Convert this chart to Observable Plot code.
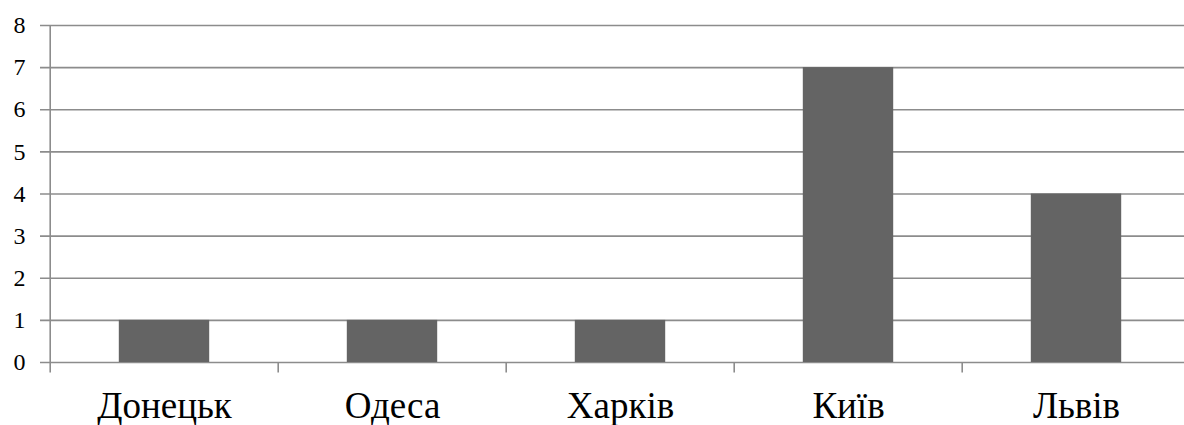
<!DOCTYPE html>
<html>
<head>
<meta charset="utf-8">
<script src="https://cdn.jsdelivr.net/npm/d3@7"></script>
<script src="https://cdn.jsdelivr.net/npm/@observablehq/plot@0.6"></script>
<style>
  html, body { margin: 0; padding: 0; background: #fff; }
  #chart svg { display: block; }
</style>
</head>
<body>
<div id="chart"></div>
<script>
const cities = ["Донецьк", "Одеса", "Харків", "Київ", "Львів"];
const counts = [1, 1, 1, 7, 4];
const yTicks = [0, 1, 2, 3, 4, 5, 6, 7, 8];

const data = cities.map((c, i) => ({city: c, value: counts[i]}));
const band = (1191.5 - 48.5) / cities.length;
const gridColor = "#8c8c8c";
const serif = "Liberation Serif";

const chart = Plot.plot({
  width: 1184,
  height: 425,
  marginLeft: 40,
  marginRight: 0,
  marginTop: 25,
  marginBottom: 63,
  style: {background: "#fff", color: "#000"},
  x: {domain: cities, range: [48.5, 1191.5], padding: 0, label: null},
  y: {domain: [0, 8], label: null},
  marks: [
    Plot.ruleY(yTicks, {stroke: gridColor, strokeWidth: 1.6}),
    Plot.barY(data, {x: "city", y: "value", fill: "#646464", insetLeft: 68.8, insetRight: 68.8}),
    Plot.ruleX(cities.slice(0, 1), {x: d => d, dx: -band / 2, y1: -0.25, y2: 8, stroke: gridColor, strokeWidth: 1.6}),
    Plot.ruleX(cities.slice(1), {x: d => d, dx: -band / 2, y1: -0.25, y2: 0, stroke: gridColor, strokeWidth: 1.6}),
    Plot.axisY(yTicks, {tickSize: 0, tickPadding: 15, fontSize: 24, fontFamily: serif, label: null, fill: "#000"}),
    Plot.axisX({tickSize: 0, tickPadding: 29, fontSize: 37, fontFamily: serif, label: null, fill: "#000"})
  ]
});
document.getElementById("chart").appendChild(chart);
</script>
</body>
</html>
